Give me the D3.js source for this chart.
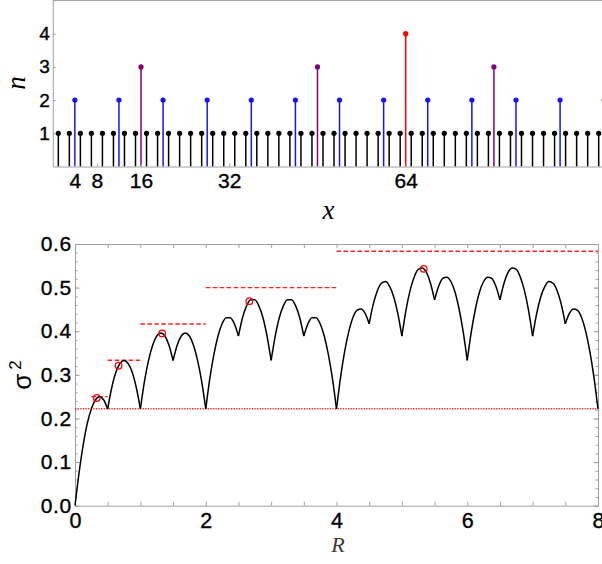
<!DOCTYPE html>
<html><head><meta charset="utf-8">
<script src="https://cdn.jsdelivr.net/npm/d3@7"></script>
<style>body{margin:0;background:#fff}svg{display:block}</style>
</head><body>
<svg id="c" width="602" height="564"></svg>
<script>
// ---------- top panel data ----------
const stemX1 = [1,3,5,7,9,11,13,15,17,19,21,23,25,27,29,31,33,35,37,39,41,43,45,47,49,51,53,55,57,59,61,63,65,67,69,71,73,75,77,79,81,83,85,87,89,91,93,95,97,99];
const stemX2 = [4,12,20,28,36,44,52,60,68,76,84,92,100];
const stemX3 = [16,48,80];
const stemX4 = [64];
const stemLevels = [1,2,3,4];
const stemColors = ["#000000","#1414ff","#800080","#ff0000"];
const topXTicks = [4,8,16,32,64];
const topYTicks = [1,2,3,4];

// ---------- bottom panel data ----------
const rStep = 0.0625; // sampling of R for the curve values below (R = 0 ... 8)
const sigma2 = [
 0.000,0.076,0.139,0.188,0.222,0.243,0.250,0.243,
 0.222,0.271,0.306,0.326,0.333,0.326,0.306,0.271,
 0.222,0.285,0.333,0.368,0.389,0.396,0.389,0.368,
 0.333,0.368,0.389,0.396,0.389,0.368,0.333,0.285,
 0.222,0.292,0.347,0.389,0.417,0.431,0.431,0.417,
 0.389,0.431,0.458,0.472,0.472,0.458,0.431,0.389,
 0.333,0.389,0.431,0.458,0.472,0.472,0.458,0.431,
 0.389,0.417,0.431,0.431,0.417,0.389,0.347,0.292,
 0.222,0.295,0.354,0.399,0.431,0.448,0.451,0.441,
 0.417,0.462,0.493,0.510,0.514,0.503,0.479,0.441,
 0.389,0.448,0.493,0.524,0.542,0.545,0.535,0.510,
 0.472,0.503,0.521,0.524,0.514,0.490,0.451,0.399,
 0.333,0.399,0.451,0.490,0.514,0.524,0.521,0.503,
 0.472,0.510,0.535,0.545,0.542,0.524,0.493,0.448,
 0.389,0.441,0.479,0.503,0.514,0.510,0.493,0.462,
 0.417,0.441,0.451,0.448,0.431,0.399,0.354,0.295,
 0.222
];
const cuspEvery = 8; // samples per arch (cusps at every 0.5 in R)
const peakR = [1/3, 2/3, 4/3, 8/3, 16/3];
const peakV = [0.247, 0.321, 0.395, 0.469, 0.543];
const boundLevel = [0.25, 1/3, 5/12, 0.5, 7/12];
const boundFrom  = [0.25, 0.5, 1, 2, 4];
const boundTo    = [0.5, 1, 2, 4, 8];
const floorLevel = 2/9;
const bottomXLabels = [0,2,4,6,8];
const bottomXTicks = [0,0.5,1,1.5,2,2.5,3,3.5,4,4.5,5,5.5,6,6.5,7,7.5,8];
const bottomYLabels = [0,0.1,0.2,0.3,0.4,0.5,0.6];
const bottomYMinor = d3.range(0, 31).map(i => i/50);

const svg = d3.select("#c");
const frameCol = "#a0a0a0";
const sans = "'Liberation Sans', Arial, Helvetica, sans-serif";
const serif = "'Liberation Serif', 'Times New Roman', serif";

// ================= TOP PANEL =================
const xT = d3.scaleLinear().domain([0,100]).range([52.8,604.2]);
const yT = d3.scaleLinear().domain([0,5]).range([166.5,0.5]);
const topG = svg.append("g");

function styleAxis(g, fs, ls){
  g.select(".domain").attr("stroke", frameCol).attr("stroke-width",1);
  g.selectAll(".tick line").attr("stroke", frameCol);
  g.selectAll(".tick text").attr("fill","#000").attr("stroke","#000").attr("stroke-width",0.35)
    .style("font-family",sans).style("font-size",fs+"px")
    .style("letter-spacing", (ls||0)+"px");
}

topG.append("line").attr("x1",xT(0)).attr("x2",602).attr("y1",yT(5)).attr("y2",yT(5))
  .attr("stroke",frameCol);

const stemSets = [stemX1, stemX2, stemX3, stemX4];
stemSets.forEach((xs, k) => {
  const g = topG.append("g");
  g.selectAll("line").data(xs).join("line")
    .attr("x1", d => xT(d)).attr("x2", d => xT(d))
    .attr("y1", yT(0)).attr("y2", yT(stemLevels[k]))
    .attr("stroke", stemColors[k]).attr("stroke-width", 1.5);
  g.selectAll("circle").data(xs).join("circle")
    .attr("cx", d => xT(d)).attr("cy", yT(stemLevels[k])).attr("r", 2.6)
    .attr("fill", stemColors[k]);
});

const gxT = topG.append("g").attr("transform",`translate(0,${yT(0)})`)
  .call(d3.axisBottom(xT).tickValues(topXTicks).tickSize(-3).tickSizeOuter(0).tickPadding(6.5)
    .tickFormat(d3.format("d")));
styleAxis(gxT, 21);
const gyT = topG.append("g").attr("transform",`translate(${xT(0)},0)`)
  .call(d3.axisLeft(yT).tickValues(topYTicks).tickSize(-3).tickSizeOuter(0).tickPadding(3)
    .tickFormat(d3.format("d")));
styleAxis(gyT, 19);

topG.append("text").attr("x", 328.5).attr("y", 219)
  .attr("text-anchor","middle").style("font-family",serif).style("font-style","italic")
  .style("font-size","27px").text("x");
topG.append("text").attr("transform","translate(25,83) rotate(-90)")
  .attr("text-anchor","middle").style("font-family",serif).style("font-style","italic")
  .style("font-size","27px").text("n");

// ================= BOTTOM PANEL =================
const xB = d3.scaleLinear().domain([0,8]).range([75,598]);
const yB = d3.scaleLinear().domain([0,0.6]).range([505.7,244]);
const bot = svg.append("g");

const gxB = bot.append("g").attr("transform",`translate(0,${yB(0)})`)
  .call(d3.axisBottom(xB).tickValues(bottomXTicks).tickSize(-4).tickSizeOuter(0).tickPadding(7)
    .tickFormat(d => bottomXLabels.includes(d) ? d3.format("d")(d) : ""));
styleAxis(gxB, 21.5);
const gxB2 = bot.append("g").attr("transform",`translate(0,${yB(0.6)})`)
  .call(d3.axisTop(xB).tickValues(bottomXTicks).tickSize(-4).tickSizeOuter(0).tickFormat(""));
styleAxis(gxB2, 21);
const gyBm = bot.append("g").attr("transform",`translate(${xB(0)},0)`)
  .call(d3.axisLeft(yB).tickValues(bottomYMinor).tickSize(-2.5).tickSizeOuter(0).tickFormat(""));
styleAxis(gyBm, 20);
const gyB = bot.append("g").attr("transform",`translate(${xB(0)},0)`)
  .call(d3.axisLeft(yB).tickValues(bottomYLabels).tickSize(-4.5).tickSizeOuter(0).tickPadding(3)
    .tickFormat(d3.format(".1f")));
styleAxis(gyB, 21, 0.7);
const gyBr = bot.append("g").attr("transform",`translate(${xB(8)},0)`)
  .call(d3.axisRight(yB).tickValues(bottomYMinor).tickSize(-2.5).tickSizeOuter(0).tickFormat(""));
styleAxis(gyBr, 20);
const gyBr2 = bot.append("g").attr("transform",`translate(${xB(8)},0)`)
  .call(d3.axisRight(yB).tickValues(bottomYLabels).tickSize(-4.5).tickSizeOuter(0).tickFormat(""));
styleAxis(gyBr2, 20);

bot.append("line").attr("x1",xB(0)).attr("x2",xB(8)).attr("y1",yB(floorLevel)).attr("y2",yB(floorLevel))
  .attr("stroke","#ff2020").attr("stroke-width",1.3).attr("stroke-dasharray","1.3,1.3");
bot.selectAll("line.bound").data(boundLevel).join("line").attr("class","bound")
  .attr("x1",(d,i)=>xB(boundFrom[i])).attr("x2",(d,i)=>xB(boundTo[i]))
  .attr("y1",d=>yB(d)).attr("y2",d=>yB(d))
  .attr("stroke","#ff2020").attr("stroke-width",1.4).attr("stroke-dasharray","4.5,2.5");

const line = d3.line().x(d=>xB(d[0])).y(d=>yB(d[1])).curve(d3.curveMonotoneX);
const nArch = (sigma2.length-1)/cuspEvery;
for (let a=0; a<nArch; a++){
  const pts = [];
  for (let j=0; j<=cuspEvery; j++){
    const idx = a*cuspEvery + j;
    pts.push([idx*rStep, sigma2[idx]]);
  }
  bot.append("path").attr("d", line(pts)).attr("fill","none")
    .attr("stroke","#000").attr("stroke-width",1.5);
}

bot.selectAll("circle.pk").data(peakR).join("circle").attr("class","pk")
  .attr("cx", d=>xB(d)).attr("cy",(d,i)=>yB(peakV[i])).attr("r",3.3)
  .attr("fill","none").attr("stroke","#ff0000").attr("stroke-width",1.3);

bot.append("text").attr("x", 338).attr("y", 551.5)
  .attr("text-anchor","middle").style("font-family",serif).style("font-style","italic")
  .style("font-size","22px").attr("fill","#3a3a3a").text("R");
const sl = bot.append("text").attr("transform","translate(31,375) rotate(-90)")
  .attr("text-anchor","middle").style("font-family",sans).style("font-size","26px");
sl.append("tspan").text("σ");
sl.append("tspan").attr("dx",4).attr("dy",-10).style("font-size","17px").text("2");
</script>
</body></html>
